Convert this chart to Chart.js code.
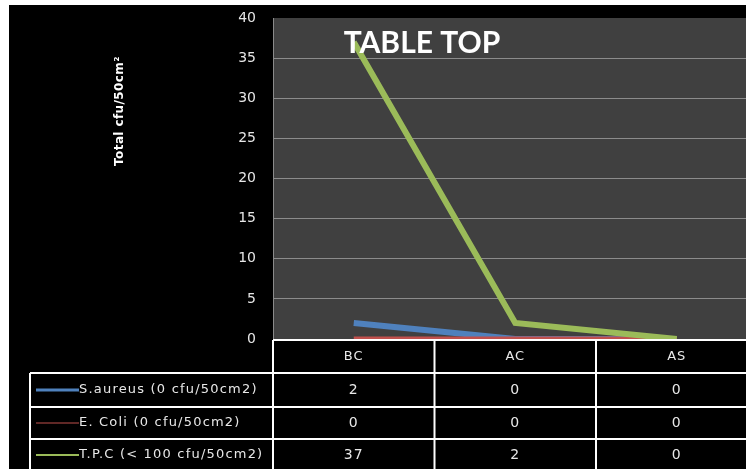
<!DOCTYPE html>
<html>
<head>
<meta charset="utf-8">
<script src="https://cdn.jsdelivr.net/npm/chart.js@4"></script>
<style>
  html, body { margin: 0; padding: 0; background: #ffffff; overflow: hidden; width: 746px; height: 469px; }
  #wrap { position: absolute; left: 9px; top: 5px; width: 750px; height: 464px; background: #000; }
  canvas { display: block; }
</style>
</head>
<body>
<div id="wrap"><canvas id="c" width="750" height="464"></canvas></div>
<script>
// Sampling points (table columns)
const categories = ['BC', 'AC', 'AS'];

// Counts per sampling point
const sAureus = [2, 0, 0];
const eColi = [0, 0, 0];
const tpc = [37, 2, 0];

// Series names shown in the data table
const seriesNames = ['S.aureus (0 cfu/50cm2)', 'E. Coli (0 cfu/50cm2)', 'T.P.C (< 100 cfu/50cm2)'];

// Y axis range
const yMin = 0, yMax = 40, yStep = 5;

const chartTitle = 'TABLE TOP';
const yTitle = 'Total cfu/50cm\u00B2';

const colors = ['#4f81bd', '#c0504d', '#9bbb59'];
const widths = [6, 5, 6];
const sampleWidths = [3, 1, 2];

// Plot background, title and y title
const backdrop = {
  id: 'backdrop',
  beforeDraw(chart) {
    const { ctx, chartArea: a } = chart;
    ctx.save();
    ctx.fillStyle = '#000';
    ctx.fillRect(0, 0, chart.width, chart.height);
    ctx.fillStyle = '#404040';
    ctx.fillRect(a.left, a.top, a.right - a.left, a.bottom - a.top);
    ctx.restore();
  },
  afterDatasetsDraw(chart) {
    const { ctx } = chart;
    ctx.save();
    ctx.fillStyle = '#ffffff';
    ctx.font = 'bold 30px Lato, "Open Sans", sans-serif';
    ctx.textAlign = 'center';
    ctx.textBaseline = 'alphabetic';
    ctx.fillText(chartTitle, 413, 48);
    ctx.translate(111, 106);
    ctx.rotate(-Math.PI / 2);
    ctx.font = 'bold 12px "DejaVu Sans", sans-serif';
    ctx.letterSpacing = '0.4px';
    ctx.textBaseline = 'middle';
    ctx.fillText(yTitle, 0, 0);
    ctx.restore();
  }
};

// Data table under the plot
const dataTable = {
  id: 'dataTable',
  afterDraw(chart) {
    const { ctx, scales: { x } } = chart;
    const centers = categories.map((_, i) => x.getPixelForValue(i));
    const half = (centers[1] - centers[0]) / 2;
    const colLeft = centers[0] - half;
    const colRight = centers[centers.length - 1] + half;
    const legendLeft = 21;
    const rows = [335, 368, 402, 434, 466];
    ctx.save();
    ctx.strokeStyle = '#ffffff';
    ctx.lineWidth = 2;
    ctx.beginPath();
    // header top
    ctx.moveTo(colLeft, rows[0]); ctx.lineTo(colRight, rows[0]);
    for (let r = 1; r < rows.length - 1; r++) {
      ctx.moveTo(legendLeft, rows[r]); ctx.lineTo(colRight, rows[r]);
    }
    // verticals
    ctx.moveTo(legendLeft, rows[1]); ctx.lineTo(legendLeft, rows[rows.length - 1]);
    for (let i = 0; i <= categories.length; i++) {
      const xx = colLeft + i * half * 2;
      ctx.moveTo(xx, rows[0]); ctx.lineTo(xx, rows[rows.length - 1]);
    }
    ctx.stroke();

    ctx.fillStyle = '#e8e8e8';
    ctx.textAlign = 'center';
    ctx.textBaseline = 'middle';
    ctx.letterSpacing = '1px';
    ctx.font = '13px "DejaVu Sans", sans-serif';
    categories.forEach((c, i) => ctx.fillText(c, centers[i], (rows[0] + rows[1]) / 2));

    chart.data.datasets.forEach((ds, r) => {
      const yMid = (rows[r + 1] + rows[r + 2]) / 2;
      ctx.font = '14px "DejaVu Sans", sans-serif';
      ctx.textAlign = 'center';
      ctx.letterSpacing = '1px';
      ds.data.forEach((v, i) => ctx.fillText(String(v), centers[i], yMid));
      ctx.strokeStyle = colors[r];
      ctx.lineWidth = sampleWidths[r];
      ctx.beginPath();
      ctx.moveTo(27, yMid); ctx.lineTo(70, yMid);
      ctx.stroke();
      ctx.textAlign = 'left';
      ctx.letterSpacing = '1.2px';
      ctx.font = '13px "DejaVu Sans", sans-serif';
      ctx.fillText(seriesNames[r], 70, yMid);
    });
    ctx.restore();
  }
};

const series = [sAureus, eColi, tpc];
new Chart(document.getElementById('c'), {
  type: 'line',
  data: {
    labels: categories,
    datasets: series.map((d, i) => ({
      label: seriesNames[i],
      data: d,
      borderColor: colors[i],
      backgroundColor: colors[i],
      borderWidth: widths[i],
      pointRadius: 0,
      tension: 0,
      order: 3 - i
    }))
  },
  options: {
    responsive: false,
    animation: false,
    layout: { padding: { left: 0, top: 13, right: 1.5, bottom: 130 } },
    plugins: { legend: { display: false }, title: { display: false }, tooltip: { enabled: false } },
    scales: {
      x: { type: 'category', offset: true, display: false },
      y: {
        min: yMin, max: yMax,
        afterFit(s) { s.width = 264; },
        border: { display: true, color: '#8a8a8a', width: 1 },
        grid: {
          drawTicks: true,
          tickLength: 17,
          tickColor: 'rgba(0,0,0,0)',
          color: ctx => (ctx.tick && (ctx.tick.value === yMax || ctx.tick.value === yMin)) ? 'rgba(0,0,0,0)' : '#8c8c8c',
          lineWidth: 1
        },
        ticks: {
          stepSize: yStep,
          padding: 0,
          color: '#e6e6e6',
          font: { family: '"DejaVu Sans", sans-serif', size: 14 }
        }
      }
    }
  },
  plugins: [backdrop, dataTable]
});
</script>
</body>
</html>
